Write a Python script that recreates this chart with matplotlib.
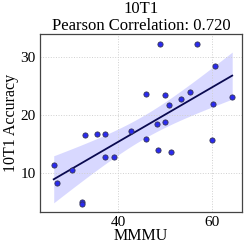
import numpy as np
import matplotlib
matplotlib.use("Agg")
import matplotlib.pyplot as plt

mmmu = [48.9, 56.9, 60.7, 45.9, 50.0, 53.3, 55.3, 50.8, 60.3, 64.3, 48.2, 49.9,
        26.3, 27.1, 30.1, 32.3, 32.3, 32.9, 35.5, 37.3, 37.3, 39.2, 42.7, 46.0,
        48.4, 51.2, 60.0]
acc = [32.2, 32.3, 28.5, 23.7, 23.4, 22.7, 23.9, 21.7, 21.9, 23.1, 18.5, 18.7,
       11.3, 8.2, 10.4, 4.9, 4.6, 16.5, 16.7, 16.7, 12.7, 12.7, 17.3, 15.8,
       13.9, 13.5, 15.6]
title = "10T1\nPearson Correlation: 0.720"

plt.rcParams['font.family'] = ['Liberation Serif', 'DejaVu Serif']

x = np.array(mmmu)
y = np.array(acc)
n = len(x)
slope, icpt = np.polyfit(x, y, 1)
xs = np.linspace(x.min(), x.max(), 100)
ys = slope * xs + icpt
resid = y - (slope * x + icpt)
s = np.sqrt(np.sum(resid ** 2) / (n - 2))
se = s * np.sqrt(1 / n + (xs - x.mean()) ** 2 / np.sum((x - x.mean()) ** 2))
t = 2.06

fig, ax = plt.subplots(figsize=(2.46, 2.5), dpi=100)
ax.fill_between(xs, ys - t * se, ys + t * se, color='#6666ff', alpha=0.25, lw=0)
ax.plot(xs, ys, color='#0a0a50', lw=1.3)
ax.scatter(x, y, s=14, color='#2a2af0', edgecolor='#333355', lw=0.6, zorder=3)

ax.set_xlim(23.4, 66.4)
ax.set_ylim(3.2, 34)
ax.set_xticks([40, 60])
ax.set_yticks([10, 20, 30])
ax.grid(True, ls=':', color='#d0d0d0', lw=0.7)
ax.tick_params(labelsize=11, length=0, pad=3)
for sp in ax.spines.values():
    sp.set_color('#444444')
    sp.set_linewidth(0.9)
ax.set_xlabel("MMMU", fontsize=11.5, labelpad=-1)
ax.set_ylabel("10T1 Accuracy", fontsize=11.5, labelpad=1)
ax.set_title(title, fontsize=12, linespacing=1.05, pad=2)

fig.subplots_adjust(left=0.163, right=0.984, top=0.864, bottom=0.152)
fig.savefig("out.png", dpi=100)
